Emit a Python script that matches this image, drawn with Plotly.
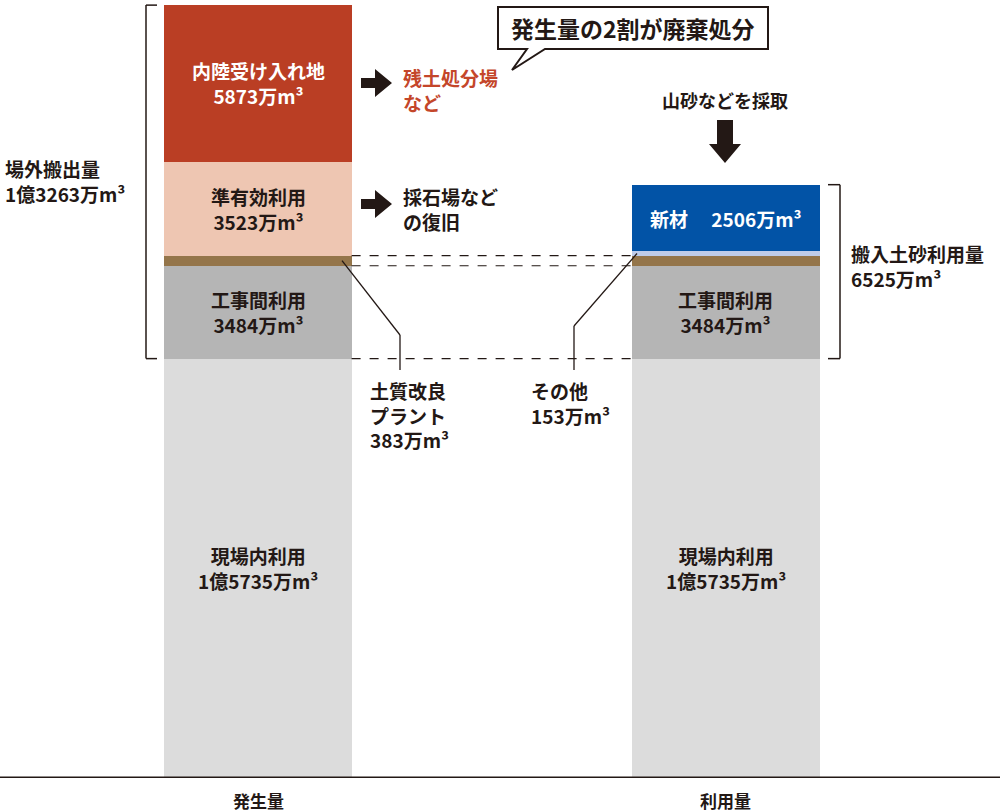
import plotly.graph_objects as go

# ---------------- data ----------------
categories = ["発生量", "利用量"]
gen_labels = ["現場内利用", "工事間利用", "土質改良プラント", "準有効利用", "内陸受け入れ地"]
gen_values = [15735, 3484, 383, 3523, 5873]
use_labels = ["現場内利用", "工事間利用", "土質改良プラント", "その他", "新材"]
use_values = [15735, 3484, 383, 153, 2506]
offsite_total = 13263
import_total = 6525
callout_text = "発生量の2割が廃棄処分"

# ---------------- styles ----------------
FONT = "Noto Sans CJK JP"
DARK = "#231815"
RED_TXT = "#C4462A"
gen_colors = ["#DCDCDC", "#B5B5B5", "#94754A", "#EEC6B2", "#BA3E24"]
use_colors = ["#DCDCDC", "#B5B5B5", "#94754A", "#BFCCEA", "#0253A6"]
gen_txtcol = [DARK, DARK, None, DARK, "white"]
use_txtcol = [DARK, DARK, None, None, "white"]
FS = 19

W, H = 1000, 812
PH = 778            # plot-area height (px)
YMAX = 29190
XL, XR = -0.5513, 1.5855
BW = 0.4


def pxp(x):  # pixel x -> paper
    return x / W


def pyp(y):  # pixel y -> paper
    return (PH - y) / PH


def y2d(y):  # pixel y -> data
    return (PH - y) / PH * YMAX


def x2d(x):
    return XL + x / W * (XR - XL)


def fmt(v):
    if v >= 10000:
        s = f"{v // 10000}億{v % 10000}万"
    else:
        s = f"{v}万"
    return s + "m³"


fig = go.Figure()

for xi, (labels, values, colors) in enumerate([(gen_labels, gen_values, gen_colors),
                                               (use_labels, use_values, use_colors)]):
    base = 0
    for lab, v, c in zip(labels, values, colors):
        fig.add_trace(go.Bar(x=[xi], y=[v], base=[base], width=BW, marker=dict(color=c, line=dict(width=0)),
                             name=lab, hoverinfo="name+y"))
        base += v

annotations = []
shapes = []

# in-bar labels
for xi, (labels, values, tcols) in enumerate([(gen_labels, gen_values, gen_txtcol),
                                              (use_labels, use_values, use_txtcol)]):
    base = 0
    for lab, v, tc in zip(labels, values, tcols):
        mid = base + v / 2
        if tc is not None:
            if lab == "新材":
                txt = f"<b>{lab}　 {fmt(v)}</b>"
            else:
                txt = f"<b>{lab}<br>{fmt(v)}</b>"
            annotations.append(dict(x=xi, y=mid, xref="x", yref="y", text=txt, showarrow=False,
                                    font=dict(family=FONT, size=FS, color=tc), align="center"))
        base += v

# category labels under baseline
for xi, c in enumerate(categories):
    annotations.append(dict(x=xi, y=0, xref="x", yref="y", yshift=-22, text=f"<b>{c}</b>", showarrow=False,
                            font=dict(family=FONT, size=17, color=DARK)))

# baseline
shapes.append(dict(type="line", xref="paper", yref="y", x0=0, x1=1, y0=0, y1=0,
                   line=dict(color=DARK, width=3), layer="above"))

# dashed connectors
c1 = gen_values[0]
c2 = c1 + gen_values[1]
c3 = c2 + gen_values[2]
for yv in [c1, c2, c3]:
    shapes.append(dict(type="line", xref="x", yref="y", x0=BW / 2, x1=1 - BW / 2, y0=yv, y1=yv,
                       line=dict(color=DARK, width=1.2, dash="dash")))

# brackets
gen_top = sum(gen_values)
use_top = sum(use_values)
bx = x2d(146); bt = x2d(157)
shapes += [
    dict(type="line", xref="x", yref="y", x0=bx, x1=bx, y0=c1, y1=gen_top, line=dict(color=DARK, width=1.5)),
    dict(type="line", xref="x", yref="y", x0=bx, x1=bt, y0=gen_top, y1=gen_top, line=dict(color=DARK, width=1.5)),
    dict(type="line", xref="x", yref="y", x0=bx, x1=bt, y0=c1, y1=c1, line=dict(color=DARK, width=1.5)),
]
rx = x2d(840); rt = x2d(828)
shapes += [
    dict(type="line", xref="x", yref="y", x0=rx, x1=rx, y0=c1, y1=use_top, line=dict(color=DARK, width=1.5)),
    dict(type="line", xref="x", yref="y", x0=rx, x1=rt, y0=use_top, y1=use_top, line=dict(color=DARK, width=1.5)),
    dict(type="line", xref="x", yref="y", x0=rx, x1=rt, y0=c1, y1=c1, line=dict(color=DARK, width=1.5)),
]

annotations.append(dict(x=pxp(3), y=pyp(181), xref="paper", yref="paper", xanchor="left", yanchor="middle",
                        text=f"<b>場外搬出量<br>{fmt(offsite_total)}</b>", showarrow=False, align="left",
                        font=dict(family=FONT, size=FS, color=DARK)))
annotations.append(dict(x=pxp(849), y=pyp(266), xref="paper", yref="paper", xanchor="left", yanchor="middle",
                        text=f"<b>搬入土砂利用量<br>{fmt(import_total)}</b>", showarrow=False, align="left",
                        font=dict(family=FONT, size=FS, color=DARK)))

# leader lines
brown_mid = c2 + gen_values[2] / 2
other_mid = c3 + use_values[3] / 2
shapes += [
    dict(type="line", xref="x", yref="y", x0=x2d(342), y0=brown_mid, x1=x2d(400), y1=y2d(335),
         line=dict(color=DARK, width=1.3)),
    dict(type="line", xref="x", yref="y", x0=x2d(400), y0=y2d(335), x1=x2d(400), y1=y2d(370),
         line=dict(color=DARK, width=1.3)),
    dict(type="line", xref="x", yref="y", x0=x2d(637), y0=other_mid, x1=x2d(574), y1=y2d(326),
         line=dict(color=DARK, width=1.3)),
    dict(type="line", xref="x", yref="y", x0=x2d(574), y0=y2d(326), x1=x2d(574), y1=y2d(370),
         line=dict(color=DARK, width=1.3)),
]
annotations.append(dict(x=pxp(368), y=pyp(415), xref="paper", yref="paper", xanchor="left", yanchor="middle",
                        text="<b>土質改良<br>プラント<br>383万m³</b>", showarrow=False, align="left",
                        font=dict(family=FONT, size=FS, color=DARK)))
annotations.append(dict(x=pxp(529), y=pyp(403), xref="paper", yref="paper", xanchor="left", yanchor="middle",
                        text="<b>その他<br>153万m³</b>", showarrow=False, align="left",
                        font=dict(family=FONT, size=FS, color=DARK)))


def path_from(pts):
    s = "M " + " L ".join(f"{pxp(x):.5f},{pyp(y):.5f}" for x, y in pts) + " Z"
    return s


def right_arrow(cy, x0=361, x1=392, xh=375):
    return [(x0, cy - 5), (xh, cy - 5), (xh, cy - 14), (x1, cy), (xh, cy + 14), (xh, cy + 5), (x0, cy + 5)]


for cy in [83, 204]:
    shapes.append(dict(type="path", xref="paper", yref="paper", path=path_from(right_arrow(cy)),
                       fillcolor=DARK, line=dict(width=0)))

# down arrow
down = [(717, 120), (733, 120), (733, 144), (741, 144), (725, 163), (709, 144), (717, 144)]
shapes.append(dict(type="path", xref="paper", yref="paper", path=path_from(down),
                   fillcolor=DARK, line=dict(width=0)))

annotations.append(dict(x=pxp(401), y=pyp(90), xref="paper", yref="paper", xanchor="left", yanchor="middle",
                        text="<b>残土処分場<br>など</b>", showarrow=False, align="left",
                        font=dict(family=FONT, size=FS, color=RED_TXT)))
annotations.append(dict(x=pxp(401), y=pyp(209), xref="paper", yref="paper", xanchor="left", yanchor="middle",
                        text="<b>採石場など<br>の復旧</b>", showarrow=False, align="left",
                        font=dict(family=FONT, size=FS, color=DARK)))
annotations.append(dict(x=pxp(725), y=pyp(100), xref="paper", yref="paper", xanchor="center", yanchor="middle",
                        text="<b>山砂などを採取</b>", showarrow=False,
                        font=dict(family=FONT, size=18, color=DARK)))

# speech bubble
bubble = [(498, 7), (768, 7), (768, 49), (545, 49), (512, 70), (527, 49), (498, 49)]
shapes.append(dict(type="path", xref="paper", yref="paper", path=path_from(bubble),
                   fillcolor="white", line=dict(color=DARK, width=2), layer="above"))
annotations.append(dict(x=pxp(633), y=pyp(28), xref="paper", yref="paper", xanchor="center", yanchor="middle",
                        text=f"<b>{callout_text}</b>", showarrow=False,
                        font=dict(family=FONT, size=23, color=DARK)))

fig.update_layout(
    width=W, height=H,
    margin=dict(l=0, r=0, t=0, b=H - PH, pad=0),
    paper_bgcolor="white", plot_bgcolor="white",
    barmode="overlay", showlegend=False, bargap=0,
    xaxis=dict(range=[XL, XR], visible=False, fixedrange=True),
    yaxis=dict(range=[0, YMAX], visible=False, fixedrange=True),
    annotations=annotations, shapes=shapes,
    font=dict(family=FONT, color=DARK),
)

fig.write_html("out.html", config=dict(displayModeBar=False),
               post_script="document.body.style.margin='0px';document.body.style.overflow='hidden';")
